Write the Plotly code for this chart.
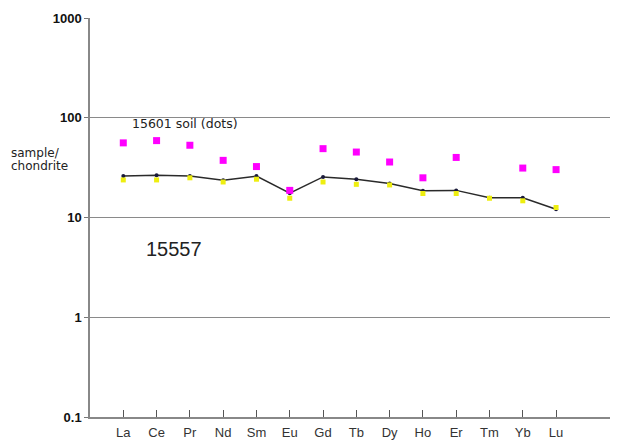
import plotly.graph_objects as go

elements = ["La", "Ce", "Pr", "Nd", "Sm", "Eu", "Gd", "Tb", "Dy", "Ho", "Er", "Tm", "Yb", "Lu"]
soil_15601 = [56, 59, 53, 37.4, 32.4, 18.7, 49, 45.3, 36, 25, 40, None, 31.3, 30.2]
line_15557 = [26, 26.5, 26, 23.6, 26, 17.5, 25.5, 24.2, 21.9, 18.5, 18.7, 15.8, 15.8, 12.1]
yellow_15557 = [23.8, 23.8, 25, 22.7, 24.2, 15.6, 22.7, 21.5, 21.2, 17.4, 17.4, 15.6, 14.7, 12.6]
y_ticks = [0.1, 1, 10, 100, 1000]
y_ticklabels = ["0.1", "1", "10", "100", "1000"]

xpos = list(range(len(elements)))
FONT = "Liberation Sans, Arial, sans-serif"
WIDE = "DejaVu Sans, Liberation Sans, sans-serif"

# page offsets (browser body margin) compensated in figure size/margins
PL, PT, PW, PH = 90, 17, 525, 401  # plot area in page pixels


def px(x):
    return (x - PL) / PW


def py(y):
    return 1 - (y - PT) / PH


fig = go.Figure()
fig.add_trace(go.Scatter(x=xpos, y=line_15557, mode="lines+markers",
                         line=dict(color="#2a2a2a", width=1.5),
                         marker=dict(symbol="circle", size=4, color="#1a1a3a"),
                         showlegend=False))
fig.add_trace(go.Scatter(x=xpos, y=yellow_15557, mode="markers",
                         marker=dict(symbol="square", size=5, color="#eeee10"),
                         showlegend=False))
fig.add_trace(go.Scatter(x=xpos, y=soil_15601, mode="markers",
                         marker=dict(symbol="square", size=7, color="#ff00ff"),
                         showlegend=False))

fig.update_layout(
    width=610, height=435,
    margin=dict(l=82, r=3, t=9, b=25),
    paper_bgcolor="white", plot_bgcolor="white",
    font=dict(family=FONT, color="#222"),
    xaxis=dict(range=[-1, 14.77], tickmode="array", tickvals=xpos, ticktext=elements,
               ticks="inside", ticklen=7, tickcolor="#555", tickwidth=1,
               showgrid=False, zeroline=False, ticklabelstandoff=3,
               showline=True, linecolor="#888", linewidth=1.5,
               tickfont=dict(size=13, family=FONT, color="#333")),
    yaxis=dict(type="log", range=[-1, 3], tickmode="array", tickvals=y_ticks, ticktext=y_ticklabels,
               ticks="outside", ticklen=4, tickcolor="#777",
               showgrid=True, gridcolor="#8a8a8a", gridwidth=1,
               showline=True, linecolor="#888", linewidth=1.5,
               zeroline=False,
               tickfont=dict(size=13, family=FONT, color="#111", weight="bold")),
    annotations=[
        dict(text="15601 soil (dots)", xref="paper", yref="paper", x=px(130), y=py(123),
             xanchor="left", yanchor="middle", showarrow=False, font=dict(size=12.5, family=WIDE, color="#222")),
        dict(text="sample/", xref="paper", yref="paper", x=px(9), y=py(153),
             xanchor="left", yanchor="middle", showarrow=False,
             font=dict(size=12, family=WIDE, color="#222")),
        dict(text="chondrite", xref="paper", yref="paper", x=px(9), y=py(166),
             xanchor="left", yanchor="middle", showarrow=False,
             font=dict(size=12, family=WIDE, color="#222")),
        dict(text="15557", xref="paper", yref="paper", x=px(144), y=py(249),
             xanchor="left", yanchor="middle", showarrow=False, font=dict(size=20, family=FONT, color="#222")),
    ],
)

fig.write_html("out.html")
